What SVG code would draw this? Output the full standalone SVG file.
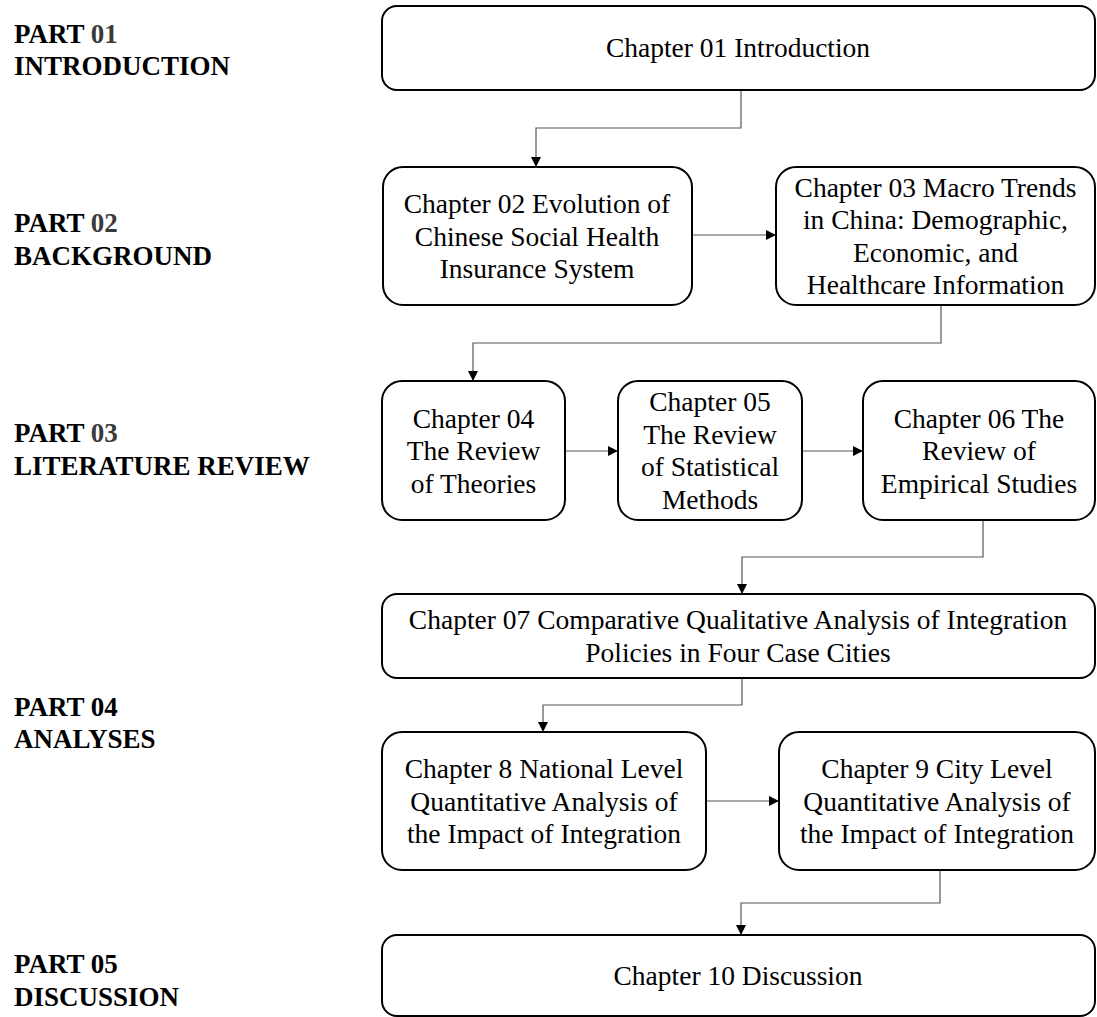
<svg xmlns="http://www.w3.org/2000/svg" width="1097" height="1017" viewBox="0 0 1097 1017">
  <style>
    .box { fill: #ffffff; stroke: #000000; stroke-width: 2; }
    .ch { font-family: "Liberation Serif", "Times New Roman", serif; font-size: 27.5px; fill: #000000; text-anchor: middle; }
    .part { font-family: "Liberation Serif", "Times New Roman", serif; font-size: 27px; font-weight: bold; fill: #000000; }
    .num { fill: #3a3a3a; }
    .link { fill: none; stroke: #555555; stroke-width: 1.2; }
  </style>
  <defs>
    <marker id="arrow" viewBox="0 0 10 10" refX="10" refY="5" markerWidth="10" markerHeight="10" markerUnits="userSpaceOnUse" orient="auto">
      <path d="M0,0 L10,5 L0,10 Z" fill="#000000"/>
    </marker>
  </defs>

  <rect width="1097" height="1017" fill="#ffffff"/>

  <!-- part headings down the left side -->
  <g id="parts">
    <text class="part" x="14" y="43">PART <tspan class="num">01</tspan></text>
    <text class="part" x="14" y="75">INTRODUCTION</text>
    <text class="part" x="14" y="232">PART <tspan class="num">02</tspan></text>
    <text class="part" x="14" y="265">BACKGROUND</text>
    <text class="part" x="14" y="442">PART <tspan class="num">03</tspan></text>
    <text class="part" x="14" y="475">LITERATURE REVIEW</text>
    <text class="part" x="14" y="716">PART 04</text>
    <text class="part" x="14" y="748">ANALYSES</text>
    <text class="part" x="14" y="973">PART 05</text>
    <text class="part" x="14" y="1006">DISCUSSION</text>
  </g>

  <!-- connectors -->
  <g id="connectors">
    <path class="link" d="M741,90 V128 H536 V167" marker-end="url(#arrow)"/>
    <path class="link" d="M692,235 H776" marker-end="url(#arrow)"/>
    <path class="link" d="M941,305 V343 H473 V381" marker-end="url(#arrow)"/>
    <path class="link" d="M565,451 H618" marker-end="url(#arrow)"/>
    <path class="link" d="M802,451 H863" marker-end="url(#arrow)"/>
    <path class="link" d="M983,520 V557 H742 V594" marker-end="url(#arrow)"/>
    <path class="link" d="M742,678 V705 H543 V732" marker-end="url(#arrow)"/>
    <path class="link" d="M706,801 H779" marker-end="url(#arrow)"/>
    <path class="link" d="M940,870 V903 H741 V935" marker-end="url(#arrow)"/>
  </g>

  <g id="ch01">
    <rect class="box" x="382" y="6" width="713" height="84" rx="15"/>
    <text class="ch" x="738" y="57">Chapter 01 Introduction</text>
  </g>

  <g id="ch02">
    <rect class="box" x="383" y="167" width="309" height="138" rx="20"/>
    <text class="ch" x="537" y="213">Chapter 02 Evolution of</text>
    <text class="ch" x="537" y="245.5">Chinese Social Health</text>
    <text class="ch" x="537" y="278">Insurance System</text>
  </g>

  <g id="ch03">
    <rect class="box" x="776" y="167" width="319" height="138" rx="20"/>
    <text class="ch" x="935.5" y="197">Chapter 03 Macro Trends</text>
    <text class="ch" x="935.5" y="229">in China: Demographic,</text>
    <text class="ch" x="935.5" y="262">Economic, and</text>
    <text class="ch" x="935.5" y="294">Healthcare Information</text>
  </g>

  <g id="ch04">
    <rect class="box" x="382" y="381" width="183" height="139" rx="20"/>
    <text class="ch" x="473.5" y="428">Chapter 04</text>
    <text class="ch" x="473.5" y="460">The Review</text>
    <text class="ch" x="473.5" y="492.5">of Theories</text>
  </g>

  <g id="ch05">
    <rect class="box" x="618" y="381" width="184" height="139" rx="20"/>
    <text class="ch" x="710" y="411">Chapter 05</text>
    <text class="ch" x="710" y="444">The Review</text>
    <text class="ch" x="710" y="476">of Statistical</text>
    <text class="ch" x="710" y="509">Methods</text>
  </g>

  <g id="ch06">
    <rect class="box" x="863" y="381" width="232" height="139" rx="20"/>
    <text class="ch" x="979" y="428">Chapter 06 The</text>
    <text class="ch" x="979" y="460">Review of</text>
    <text class="ch" x="979" y="492.5">Empirical Studies</text>
  </g>

  <g id="ch07">
    <rect class="box" x="382" y="594" width="713" height="84" rx="15"/>
    <text class="ch" x="738" y="629">Chapter 07 Comparative Qualitative Analysis of Integration</text>
    <text class="ch" x="738" y="662">Policies in Four Case Cities</text>
  </g>

  <g id="ch08">
    <rect class="box" x="382" y="732" width="324" height="138" rx="20"/>
    <text class="ch" x="544" y="778">Chapter 8 National Level</text>
    <text class="ch" x="544" y="810.5">Quantitative Analysis of</text>
    <text class="ch" x="544" y="843">the Impact of Integration</text>
  </g>

  <g id="ch09">
    <rect class="box" x="779" y="732" width="316" height="138" rx="20"/>
    <text class="ch" x="937" y="778">Chapter 9 City Level</text>
    <text class="ch" x="937" y="810.5">Quantitative Analysis of</text>
    <text class="ch" x="937" y="843">the Impact of Integration</text>
  </g>

  <g id="ch10">
    <rect class="box" x="382" y="935" width="713" height="81" rx="15"/>
    <text class="ch" x="738" y="985">Chapter 10 Discussion</text>
  </g>
</svg>
